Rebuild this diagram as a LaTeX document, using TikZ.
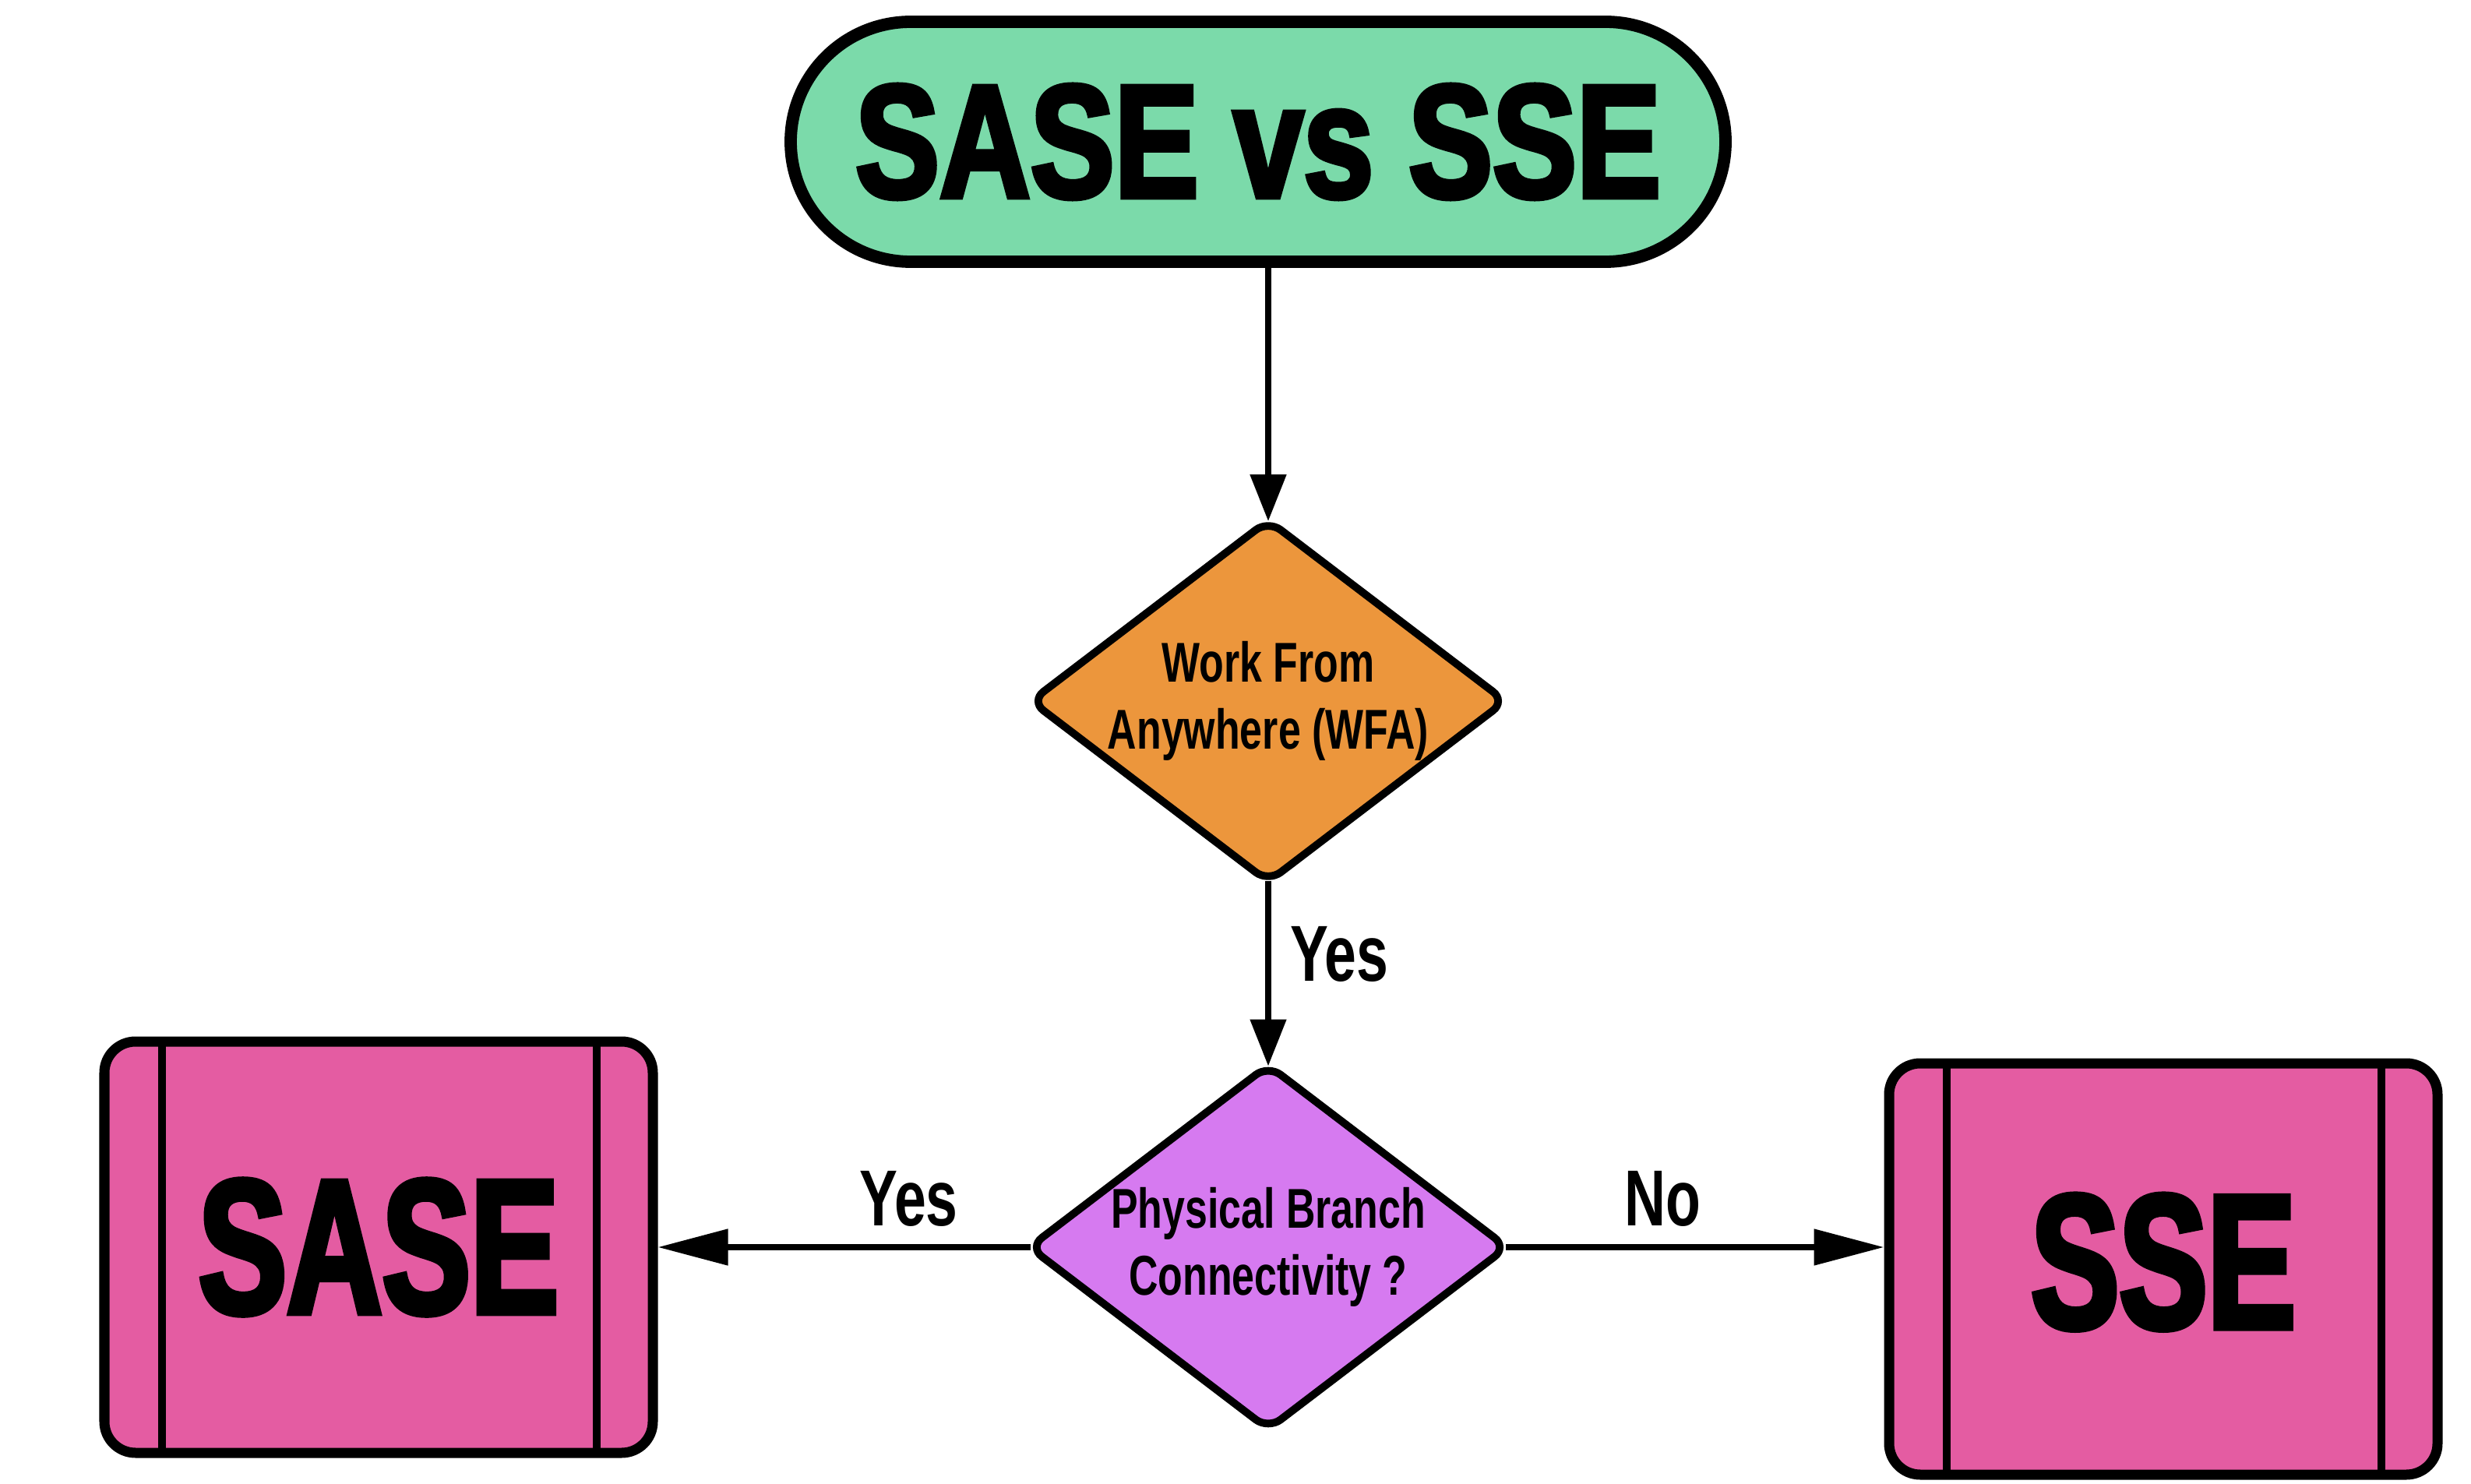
\documentclass[tikz,border=0pt]{standalone}
\usepackage{fontspec}
\setmainfont{Liberation Sans}
\newfontfamily\headfont{Liberation Sans}[FakeStretch=0.78,FakeBold=3]
\newfontfamily\resultfont{Liberation Sans}[FakeStretch=0.69,FakeBold=3]
\newfontfamily\flowfont{Liberation Sans}[FakeStretch=0.72]
\usepackage{xcolor}
\usetikzlibrary{shapes.geometric, shapes.misc, arrows.meta, positioning, calc}
\definecolor{titlegreen}{RGB}{123, 218, 170}
\definecolor{wfaorange}{RGB}{236, 150, 60}
\definecolor{branchpurple}{RGB}{214, 122, 240}
\definecolor{resultpink}{RGB}{228, 92, 162}

\tikzset{
  titlebox/.style={rounded rectangle, draw, line width=4.5pt, fill=titlegreen,
    minimum width=12cm, minimum height=3.08cm, inner sep=0pt,
    font=\headfont\bfseries\fontsize{59}{62}\selectfont},
  decision/.style={diamond, draw, line width=2.8pt, rounded corners=0.2cm,
    aspect=1.31, inner sep=0pt, align=center,
    font=\flowfont\bfseries\fontsize{20.5}{24.5}\selectfont},
  resultbox/.style={rectangle, draw, line width=3.7pt, rounded corners=0.4cm,
    fill=resultpink, minimum width=7.04cm, minimum height=5.28cm,
    font=\resultfont\bfseries\fontsize{70}{72}\selectfont,
    path picture={
      \draw[line width=2.8pt] ([xshift=0.74cm]path picture bounding box.north west)
        -- ([xshift=0.74cm]path picture bounding box.south west);
      \draw[line width=2.8pt] ([xshift=-0.72cm]path picture bounding box.north east)
        -- ([xshift=-0.72cm]path picture bounding box.south east);
    }},
  flow/.style={line width=2.3pt, -{Triangle[length=0.6cm, width=0.45cm]}},
  longflow/.style={line width=2.3pt, -{Triangle[length=0.9cm, width=0.45cm]}},
  answer/.style={inner sep=0pt, font=\flowfont\bfseries\fontsize{29}{32}\selectfont}
}

\begin{document}
\begin{tikzpicture}
    \useasboundingbox[fill=white] (0,0) rectangle (31.72,19.04);
    % Title
    \node[titlebox] (title) at (16.15, 17.22) {SASE vs SSE};
    % Decisions
    \node[decision, fill=wfaorange, minimum width=5.93cm, minimum height=4.53cm]
        (wfa) at (16.28, 10.04) {Work From\\Anywhere (WFA)};
    \node[decision, fill=branchpurple, minimum width=6.17cm, minimum height=4.71cm]
        (branch) at (16.28, 3.03) {Physical Branch\\Connectivity ?};
    % Outcomes
    \node[resultbox] (sase) at (4.86, 3.03) {SASE};
    \node[resultbox] (sse) at (27.77, 2.75) {\raisebox{0.2cm}{SSE}};
    % Connectors
    \draw[flow, shorten >=-0.08cm] (title.south -| wfa.north) -- (wfa.north);
    \draw[flow, shorten <=-0.08cm, shorten >=-0.08cm] (wfa.south) -- (branch.north)
        node[answer, pos=0.39, right=0.24cm] (yes1) {Yes};
    \draw[longflow, shorten <=-0.08cm] (branch.west) -- (branch.west -| sase.east)
        node[answer, pos=0.315, above=0.22cm] (yes2) {Yes};
    \draw[longflow, shorten <=-0.08cm] (branch.east) -- (branch.east -| sse.west)
        node[answer, pos=0.405, above=0.22cm] (no) {No};
\end{tikzpicture}
\end{document}
